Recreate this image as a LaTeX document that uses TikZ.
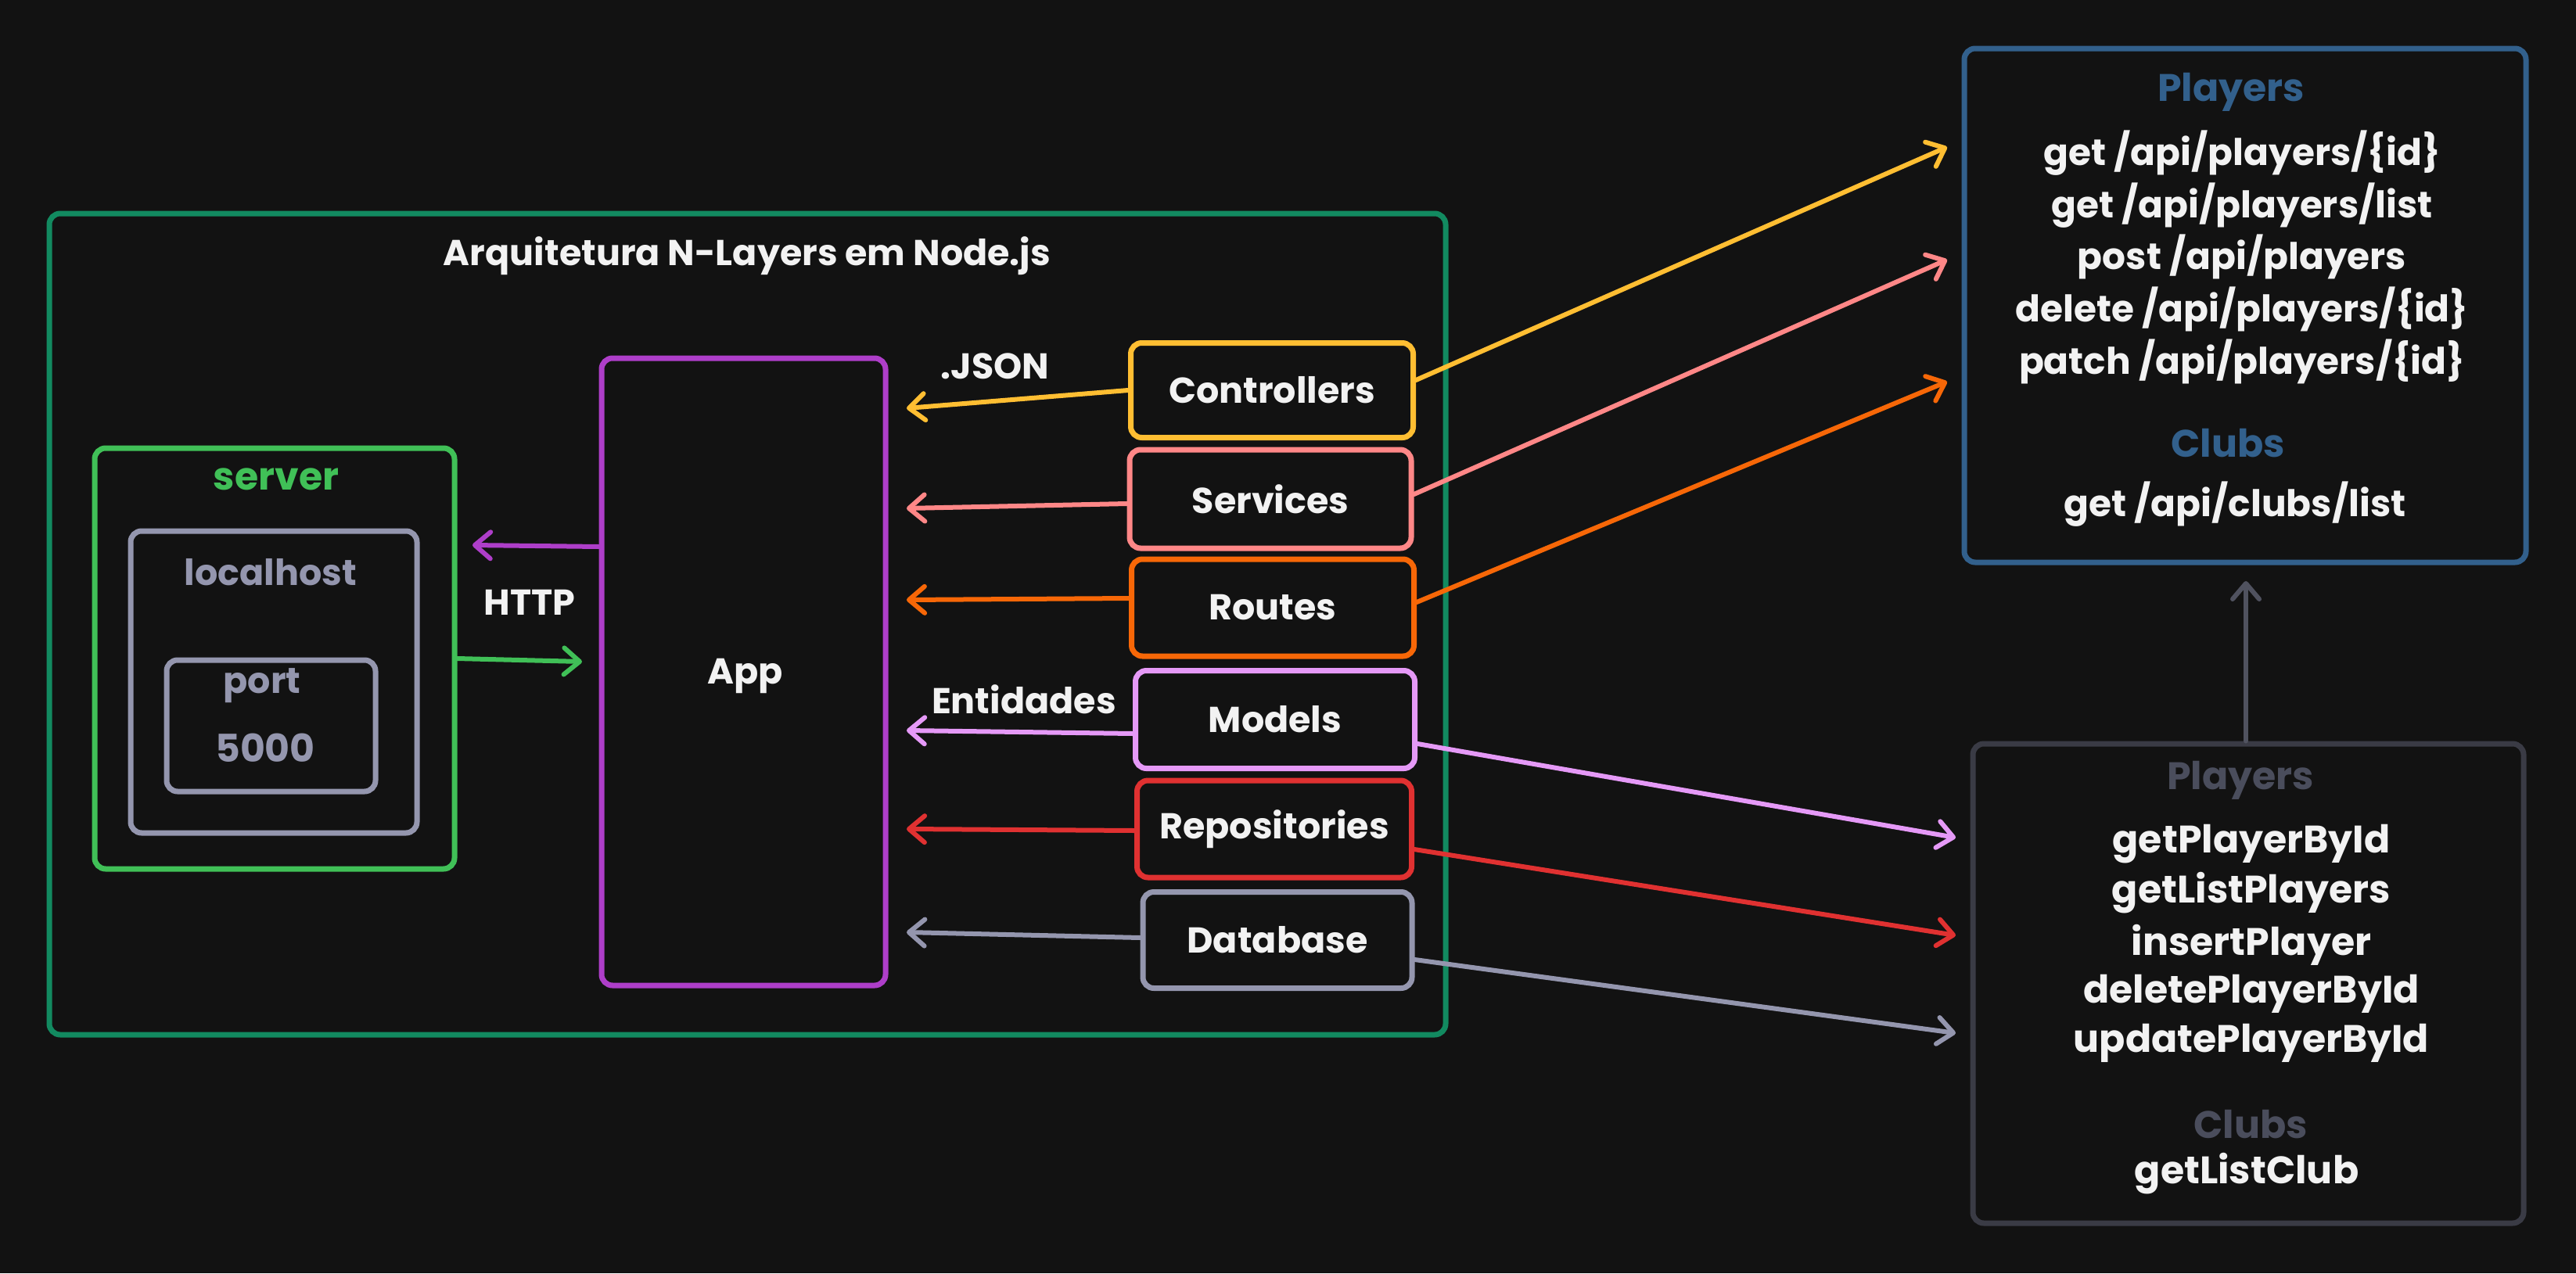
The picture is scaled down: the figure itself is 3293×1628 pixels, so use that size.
\documentclass[tikz,border=0pt]{standalone}
\usepackage{fontspec}
\setmainfont{Poppins}
\usetikzlibrary{arrows.meta,positioning}
\definecolor{bg}{RGB}{18,18,18}
\definecolor{outerg}{RGB}{18,138,96}
\definecolor{srvg}{RGB}{64,192,87}
\definecolor{grayb}{RGB}{148,150,174}
\definecolor{appp}{RGB}{174,62,201}
\definecolor{ctrly}{RGB}{255,190,50}
\definecolor{svcp}{RGB}{255,135,135}
\definecolor{rto}{RGB}{247,103,7}
\definecolor{mdlp}{RGB}{229,153,247}
\definecolor{repr}{RGB}{224,49,49}
\definecolor{apib}{RGB}{50,96,140}
\definecolor{dbox}{RGB}{58,59,69}
\definecolor{dtxt}{RGB}{74,77,92}
\definecolor{darr}{RGB}{80,82,95}
\definecolor{wt}{RGB}{242,242,242}
\tikzset{
  box/.style={draw=#1, rectangle, rounded corners=14pt, line width=7pt, inner sep=0pt},
  lbl/.style={text=wt, font=\fontsize{46}{54}\selectfont\bfseries, inner sep=0pt},
  apil/.style={text=wt, font=\fontsize{47}{55}\selectfont\bfseries, inner sep=0pt},
  fnl/.style={text=wt, font=\fontsize{49}{57}\selectfont\bfseries, inner sep=0pt},
  hdl/.style={font=\fontsize{49}{57}\selectfont\bfseries, inner sep=0pt},
  arr/.style={draw=#1, line width=6pt, line cap=round, line join=round,
    -{Straight Barb[length=20pt,width=34pt,line cap=round,line join=round]}},
}
\begin{document}
\begin{tikzpicture}[x=1pt,y=-1pt]
\fill[bg] (0,0) rectangle (3293,1628);
\useasboundingbox (0,0) rectangle (3293,1628);
% outer container
\node[box=outerg, minimum width=1785pt, minimum height=1050pt] (outer) at (955.5,798) {};
\node[lbl] (title) at (955,327) {Arquitetura N-Layers em Node.js};
% server
\node[box=srvg, minimum width=460pt, minimum height=538pt] (server) at (351,842) {};
\node[hdl, text=srvg] (serverlbl) at (353,613) {server};
\node[box=grayb, minimum width=366pt, minimum height=386pt] (localhost) at (350,872) {};
\node[lbl, text=grayb] (localhostlbl) at (346,732) {localhost};
\node[box=grayb, minimum width=267pt, minimum height=168pt] (port) at (346.5,928) {};
\node[lbl, text=grayb] (portlbl) at (335,877) {port};
\node[hdl, text=grayb] (numlbl) at (339,956) {5000};
% app
\node[box=appp, minimum width=363pt, minimum height=802pt] (app) at (950.5,859) {};
\node[lbl] (applbl) at (953,864) {App};
\coordinate (appL) at (604,697);
\coordinate (appR) at (744,846);
\draw[arr=appp] ([yshift=160pt]app.west) -- (appL);
\draw[arr=srvg] (server.east |- 0,842) -- (appR);
\node[lbl] (http) at (677,770) {HTTP};
% layers
\node[box=ctrly, minimum width=361pt, minimum height=121pt] (ctrl) at (1626,499) {};
\node[lbl] at (ctrl) {Controllers};
\node[box=svcp, minimum width=360pt, minimum height=126pt] (svc) at (1624,638) {};
\node[lbl] at (svc) {Services};
\node[box=rto, minimum width=361pt, minimum height=124pt] (rt) at (1627,777) {};
\node[lbl] at (rt) {Routes};
\node[box=mdlp, minimum width=357pt, minimum height=125pt] (mdl) at (1630,920) {};
\node[lbl] at (mdl) {Models};
\node[box=repr, minimum width=351pt, minimum height=124pt] (rep) at (1629,1060) {};
\node[lbl] at (rep) {Repositories};
\node[box=grayb, minimum width=344pt, minimum height=123pt] (db) at (1633,1202) {};
\node[lbl] at (db) {Database};
\node[lbl] (json) at (1272,468) {.JSON};
\node[lbl] (ent) at (1309,894) {Entidades};
% arrows to app
\coordinate (tCtrl) at (1159,522);
\coordinate (tSvc) at (1159,650);
\coordinate (tRt) at (1159,767);
\coordinate (tMdl) at (1159,934);
\coordinate (tRep) at (1159,1060);
\coordinate (tDb) at (1159,1192);
\draw[arr=ctrly] (ctrl.west) -- (tCtrl);
\draw[arr=svcp] ([yshift=-6pt]svc.west) -- (tSvc);
\draw[arr=rto] ([yshift=12pt]rt.west) -- (tRt);
\draw[arr=mdlp] ([yshift=-18pt]mdl.west) -- (tMdl);
\draw[arr=repr] ([yshift=-2pt]rep.west) -- (tRep);
\draw[arr=grayb] ([yshift=3pt]db.west) -- (tDb);
% API box
\node[box=apib, minimum width=718pt, minimum height=657pt] (api) at (2870,390.5) {};
\node[hdl, text=apib] (apiP) at (2852,118) {Players};
\node[apil] (a1) at (2866,196) {get /api/players/\{id\}};
\node[apil] (a2) at (2866,263) {get /api/players/list};
\node[apil] (a3) at (2866,328) {post /api/players};
\node[apil] (a4) at (2866,395) {delete /api/players/\{id\}};
\node[apil] (a5) at (2866,462) {patch /api/players/\{id\}};
\node[hdl, text=apib] (apiC) at (2848,567) {Clubs};
\node[apil] (a6) at (2857,645) {get /api/clubs/list};
% repo functions box
\node[box=dbox, minimum width=704pt, minimum height=613pt] (fn) at (2874,1257.5) {};
\node[hdl, text=dtxt] (fnP) at (2864,998) {Players};
\node[fnl] (f1) at (2878,1079) {getPlayerById};
\node[fnl] (f2) at (2878,1142) {getListPlayers};
\node[fnl] (f3) at (2878,1208) {insertPlayer};
\node[fnl] (f4) at (2878,1271) {deletePlayerById};
\node[fnl] (f5) at (2878,1334) {updatePlayerById};
\node[hdl, text=dtxt] (fnC) at (2877,1438) {Clubs};
\node[fnl] (f6) at (2872,1501) {getListClub};
% right arrows
\coordinate (rCtrl) at (2489,188);
\coordinate (rSvc) at (2489,332);
\coordinate (rRt) at (2489,488);
\coordinate (rMdl) at (2500,1071);
\coordinate (rRep) at (2500,1196);
\coordinate (rDb) at (2500,1321);
\draw[arr=ctrly] ([yshift=13pt]ctrl.east) -- (rCtrl);
\draw[arr=svcp] ([yshift=6pt]svc.east) -- (rSvc);
\draw[arr=rto] ([yshift=7pt]rt.east) -- (rRt);
\draw[arr=mdlp] ([yshift=-31pt]mdl.east) -- (rMdl);
\draw[arr=repr] ([yshift=-26pt]rep.east) -- (rRep);
\draw[arr=grayb] ([yshift=-25pt]db.east) -- (rDb);
\coordinate (upT) at (2871,743);
\draw[arr=darr] (fn.north -| upT) -- (upT);
\end{tikzpicture}
\end{document}
